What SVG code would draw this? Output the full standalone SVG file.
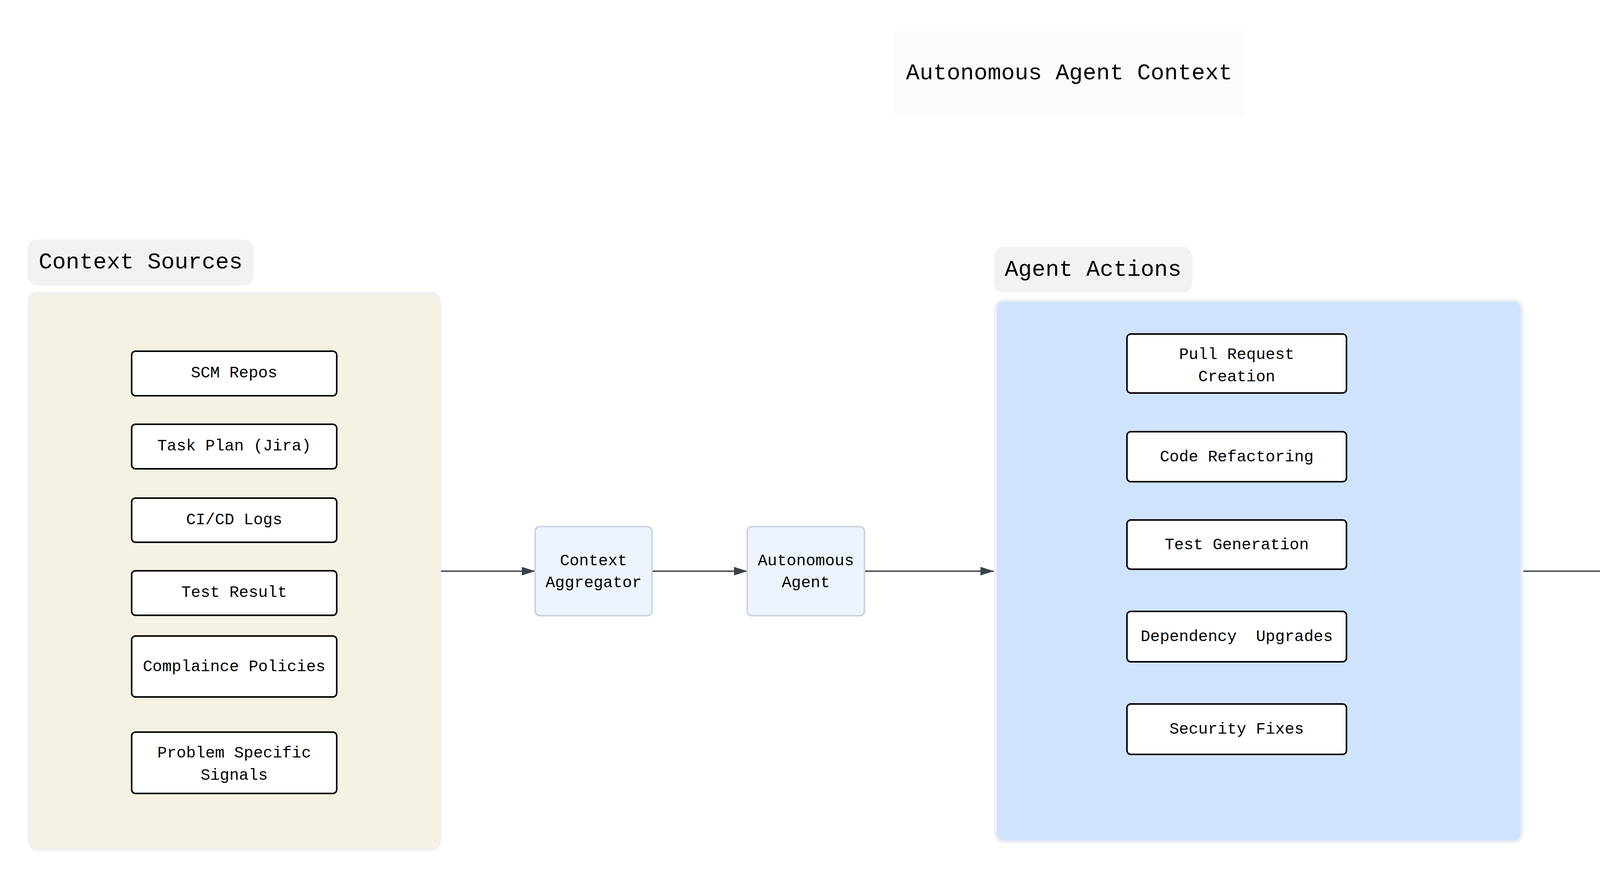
<svg xmlns="http://www.w3.org/2000/svg" width="5588" height="2250" viewBox="0 0 5588 2250">
<style>
text{font-family:"Liberation Mono","DejaVu Sans Mono",monospace;fill:#000;}
.lbl{font-size:58px;}
.nt{font-size:41px;text-anchor:middle;white-space:pre;}
.lblbg{fill:#f1f2f4;}
.node{fill:#fff;stroke:#000;stroke-width:4;}
.mid{fill:#edf4fe;stroke:#cbd3de;stroke-width:4;}
.cont{stroke:#eff0f2;stroke-width:7;}
.edge{stroke:#3a414b;stroke-width:3.5;fill:none;marker-end:url(#ah);}
</style>
<defs>
<marker id="ah" markerUnits="userSpaceOnUse" markerWidth="34" markerHeight="22" refX="34" refY="11" orient="auto">
<path d="M0,0 L34,11 L0,22 z" fill="#3a414b"/>
</marker>
</defs>
<rect width="5588" height="2250" fill="#fff"/>

<g id="title">
<rect x="2290" y="77" width="895" height="220" rx="8" fill="#fbfbfb"/>
<text class="lbl" x="2737" y="203" text-anchor="middle">Autonomous Agent Context</text>
</g>

<g id="context-sources">
<rect class="lblbg" x="71" y="613" width="578" height="118" rx="24"/>
<text class="lbl" x="99" y="687">Context Sources</text>
<rect class="cont" x="74.5" y="750.5" width="1051" height="1424" rx="22" fill="#f5f2e3"/>
</g>
<g id="agent-actions">
<rect class="lblbg" x="2545" y="632" width="507" height="117" rx="24"/>
<text class="lbl" x="2572" y="706">Agent Actions</text>
<rect class="cont" x="2548.5" y="768.5" width="1348" height="1387" rx="22" fill="#d0e3fd"/>
</g>
<g id="outcomes">
<rect class="lblbg" x="4309" y="632" width="332" height="117" rx="24"/>
<text class="lbl" x="4336" y="706">Outcomes</text>
<rect class="cont" x="4312.5" y="768.5" width="1199" height="1387" rx="22" fill="#f3faf3"/>
</g>

<g id="connectors">
<line class="edge" x1="1129" y1="1462" x2="1370" y2="1462"/>
<line class="edge" x1="1669" y1="1462" x2="1913" y2="1462"/>
<line class="edge" x1="2213" y1="1462" x2="2544" y2="1462"/>
<line class="edge" x1="3900" y1="1462" x2="4309" y2="1462"/>
</g>

<g id="scm-repos"><rect class="node" x="337" y="899" width="525" height="114" rx="10"/><text class="nt" x="599.5" y="966">SCM Repos</text></g>
<g id="task-plan"><rect class="node" x="337" y="1086" width="525" height="114" rx="10"/><text class="nt" x="599.5" y="1153">Task Plan (Jira)</text></g>
<g id="cicd-logs"><rect class="node" x="337" y="1275" width="525" height="113" rx="10"/><text class="nt" x="599.5" y="1342">CI/CD Logs</text></g>
<g id="test-result"><rect class="node" x="337" y="1461" width="525" height="114" rx="10"/><text class="nt" x="599.5" y="1528">Test Result</text></g>
<g id="compliance-policies"><rect class="node" x="337" y="1628" width="525" height="156" rx="10"/><text class="nt" x="599.5" y="1718">Complaince Policies</text></g>
<g id="problem-signals"><rect class="node" x="337" y="1874" width="525" height="157" rx="10"/><text class="nt" x="599.5" y="1939">Problem Specific</text><text class="nt" x="599.5" y="1996">Signals</text></g>

<g id="context-aggregator"><rect class="mid" x="1370" y="1348" width="299" height="228" rx="12"/><text class="nt" x="1519.5" y="1447">Context</text><text class="nt" x="1519.5" y="1503">Aggregator</text></g>
<g id="autonomous-agent"><rect class="mid" x="1913" y="1348" width="300" height="228" rx="12"/><text class="nt" x="2063" y="1447">Autonomous</text><text class="nt" x="2063" y="1503">Agent</text></g>

<g id="pull-request"><rect class="node" x="2885" y="855" width="562" height="151" rx="10"/><text class="nt" x="3166" y="919">Pull Request</text><text class="nt" x="3166" y="976">Creation</text></g>
<g id="code-refactoring"><rect class="node" x="2885" y="1105" width="562" height="128" rx="10"/><text class="nt" x="3166" y="1181">Code Refactoring</text></g>
<g id="test-generation"><rect class="node" x="2885" y="1331" width="562" height="126" rx="10"/><text class="nt" x="3166" y="1406">Test Generation</text></g>
<g id="dependency-upgrades"><rect class="node" x="2885" y="1565" width="562" height="129" rx="10"/><text class="nt" x="3166" y="1641">Dependency  Upgrades</text></g>
<g id="security-fixes"><rect class="node" x="2885" y="1802" width="562" height="129" rx="10"/><text class="nt" x="3166" y="1878">Security Fixes</text></g>

<g id="cleaner-prs"><rect class="node" x="4610" y="866" width="566" height="128" rx="10"/><text class="nt" x="4893" y="942">Cleaner PRs</text></g>
<g id="standardized-code"><rect class="node" x="4610" y="1105" width="566" height="128" rx="10"/><text class="nt" x="4893" y="1181">Standardized Code</text></g>
<g id="quality-coverage"><rect class="node" x="4610" y="1354" width="566" height="127" rx="10"/><text class="nt" x="4893" y="1430">Qulaity Coverage</text></g>
<g id="up-to-date"><rect class="node" x="4610" y="1586" width="566" height="150" rx="10"/><text class="nt" x="4893" y="1650">Up-to-date</text><text class="nt" x="4893" y="1707">Dependencies</text></g>
<g id="enterprise-safe"><rect class="node" x="4610" y="1840" width="566" height="157" rx="10"/><text class="nt" x="4893" y="1906">Enterprise Safe</text><text class="nt" x="4893" y="1963">Implementation</text></g>
</svg>
